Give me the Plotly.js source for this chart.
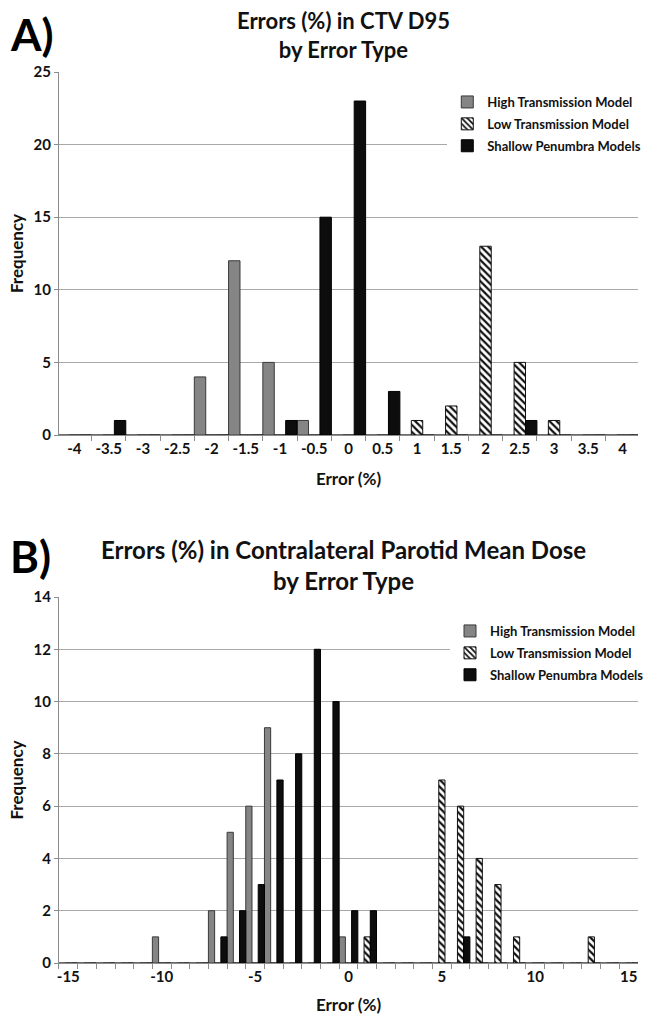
<!DOCTYPE html>
<html>
<head>
<meta charset="utf-8">
<script src="https://cdn.plot.ly/plotly-3.0.1.min.js"></script>
<style>html,body{margin:0;padding:0;background:#fff;}#chart{width:649px;height:1015px;}</style>
</head>
<body>
<div id="chart"></div>
<script>
// Panel A: Errors (%) in CTV D95
const catsA = ['-4','-3.5','-3','-2.5','-2','-1.5','-1','-0.5','0','0.5','1','1.5','2','2.5','3','3.5','4'];
const highA    = [0,0,0,0,4,12,5,1,0,0,0,0,0,0,0,0,0];
const lowA     = [0,0,0,0,0,0,0,0,0,0,1,2,13,5,1,0,0];
const shallowA = [0,1,0,0,0,0,1,15,23,3,0,0,0,1,0,0,0];

// Panel B: Errors (%) in Contralateral Parotid Mean Dose
const catsB = ['-15','-14','-13','-12','-11','-10','-9','-8','-7','-6','-5','-4','-3','-2','-1','0','1','2','3','4','5','6','7','8','9','10','11','12','13','14','15'];
const labelsB = ['-15','','','','','-10','','','','','-5','','','','','0','','','','','5','','','','','10','','','','','15'];
const highB    = [0,0,0,0,0,1,0,0,2,5,6,9,0,0,0,1,0,0,0,0,0,0,0,0,0,0,0,0,0,0,0];
const lowB     = [0,0,0,0,0,0,0,0,0,0,0,0,0,0,0,0,1,0,0,0,7,6,4,3,1,0,0,0,1,0,0];
const shallowB = [0,0,0,0,0,0,0,0,1,2,3,7,8,12,10,2,2,0,0,0,0,1,0,0,0,0,0,0,0,0,0];

const seriesNames = ['High Transmission Model','Low Transmission Model','Shallow Penumbra Models'];

const FONT = 'Lato, "Open Sans", sans-serif';
const highMarker = {color:'#858585', line:{color:'#3a3a3a', width:1}};
const lowMarker = {color:'#ffffff', line:{color:'#111', width:1},
  pattern:{shape:'\\', fgcolor:'#111', bgcolor:'#ffffff', size:5, solidity:0.45}};
const shallowMarker = {color:'#0d0d0d', line:{color:'#000', width:1}};

function traces(cats, h, l, s, xa, ya, leg){
  return [
    {type:'bar', name:seriesNames[0], x:cats, y:h, xaxis:xa, yaxis:ya, marker:highMarker, legend:leg, legendgroup:leg+'a'},
    {type:'bar', name:seriesNames[1], x:cats, y:l, xaxis:xa, yaxis:ya, marker:lowMarker, legend:leg, legendgroup:leg+'b'},
    {type:'bar', name:seriesNames[2], x:cats, y:s, xaxis:xa, yaxis:ya, marker:shallowMarker, legend:leg, legendgroup:leg+'c'}
  ];
}

const data = [].concat(
  traces(catsA, highA, lowA, shallowA, 'x', 'y', 'legend'),
  traces(catsB, highB, lowB, shallowB, 'x2', 'y2', 'legend2')
);

const H = 1015, W = 649;
const py = v => (H - v) / H;
const axisCommon = {
  showline:true, linecolor:'#8c8c8c', linewidth:1,
  ticks:'outside', tickcolor:'#8c8c8c', ticklen:5,
  tickfont:{family:FONT, size:15, color:'#111', weight:700},
  zeroline:false, fixedrange:true
};
const legendCommon = {
  bgcolor:'#ffffff', borderwidth:0, traceorder:'grouped', tracegroupgap:2,
  font:{family:FONT, size:13, color:'#111', weight:700},
  xanchor:'left', yanchor:'top', itemwidth:30
};
const axTitleFont = {family:FONT, size:17, color:'#111', weight:700};

const layout = {
  width:W, height:H,
  margin:{l:0, r:0, t:0, b:0},
  paper_bgcolor:'#ffffff', plot_bgcolor:'#ffffff',
  barmode:'group', bargap:0, bargroupgap:0,
  font:{family:FONT, color:'#111'},
  xaxis:Object.assign({}, axisCommon, {
    domain:[60/W, 1], anchor:'y', type:'category', range:[-0.45, 16.45], tickson:'boundaries',
    showgrid:false, tickangle:0,
    title:{text:'Error (%)', font:axTitleFont, standoff:17}
  }),
  yaxis:Object.assign({}, axisCommon, {
    domain:[py(435), py(72)], anchor:'x', range:[0,25], dtick:5, ticklen:4,
    showgrid:true, gridcolor:'#a8a8a8', gridwidth:1,
    title:{text:'Frequency', font:axTitleFont, standoff:5}
  }),
  xaxis2:Object.assign({}, axisCommon, {
    domain:[60/W, 1], anchor:'y2', type:'category', range:[-0.5, 30.5], tickson:'boundaries',
    tickmode:'array', tickvals:catsB, ticktext:labelsB, tickangle:0,
    showgrid:false,
    title:{text:'Error (%)', font:axTitleFont, standoff:17}
  }),
  yaxis2:Object.assign({}, axisCommon, {
    domain:[py(963), py(597)], anchor:'x2', range:[0,14], dtick:2, ticklen:4,
    showgrid:true, gridcolor:'#a8a8a8', gridwidth:1,
    title:{text:'Frequency', font:axTitleFont, standoff:5}
  }),
  legend:Object.assign({}, legendCommon, {x:455/W, y:py(87)}),
  legend2:Object.assign({}, legendCommon, {x:458/W, y:py(616)}),
  annotations:[
    {text:'Errors (%) in CTV D95<br>by Error Type', xref:'paper', yref:'paper',
     x:349/W, y:py(5), xanchor:'center', yanchor:'top', showarrow:false,
     font:{family:FONT, size:22, color:'#111', weight:700}},
    {text:'Errors (%) in Contralateral Parotid Mean Dose<br>by Error Type', xref:'paper', yref:'paper',
     x:349/W, y:py(533), xanchor:'center', yanchor:'top', showarrow:false,
     font:{family:FONT, size:24, color:'#111', weight:700}},
    {text:'A)', xref:'paper', yref:'paper', x:8/W, y:py(6), xanchor:'left', yanchor:'top', showarrow:false,
     font:{family:FONT, size:44, color:'#000', weight:700}},
    {text:'B)', xref:'paper', yref:'paper', x:8/W, y:py(528), xanchor:'left', yanchor:'top', showarrow:false,
     font:{family:FONT, size:44, color:'#000', weight:700}}
  ]
};

Plotly.newPlot('chart', data, layout, {displayModeBar:false, staticPlot:true});
</script>
</body>
</html>
